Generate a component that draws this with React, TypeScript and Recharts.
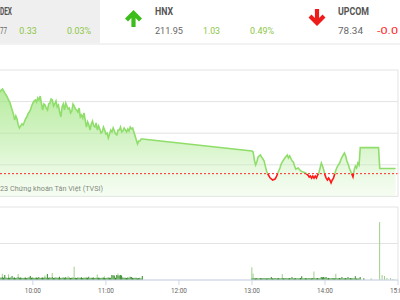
import React from 'react';
import { AreaChart, Area, XAxis, YAxis, CartesianGrid, ReferenceLine, BarChart, Bar } from 'recharts';

// ---- header (index tiles, partly cut off at the edges) ----
const tileNames = ['DEX', 'HNX', 'UPCOM'];
const tileValues = ['77', '211.95', '78.34'];
const tileChanges = ['0.33', '1.03', '-0.0'];
const tilePercents = ['0.03%', '0.49%', ''];

// ---- price (minutes since midnight, index value) ----
const referencePrice = 1099.44;
const priceTicks = [1098, 1100, 1102, 1104, 1106];

// one value per minute from 9:33 to 11:30
const morningPriceStart = 573;
const morningPrice = [
  1104.61, 1104.73, 1104.80, 1104.67, 1104.54, 1104.42, 1104.29, 1104.10, 1103.97, 1103.72,
  1103.47, 1103.22, 1102.84, 1103.09, 1102.90, 1102.52, 1102.33, 1102.46, 1102.58, 1102.52,
  1102.71, 1102.90, 1103.03, 1103.22, 1103.34, 1103.47, 1103.72, 1103.91, 1104.04, 1104.10,
  1103.97, 1104.23, 1104.10, 1104.35, 1103.91, 1103.47, 1103.85, 1103.78, 1103.59, 1103.47,
  1103.85, 1103.91, 1104.16, 1104.10, 1103.72, 1103.85, 1104.04, 1103.66, 1103.78, 1103.34,
  1103.03, 1103.66, 1103.85, 1103.47, 1103.91, 1103.72, 1103.53, 1103.59, 1103.28, 1103.41,
  1103.85, 1103.72, 1103.53, 1103.47, 1103.34, 1103.59, 1103.03, 1103.15, 1102.96, 1103.28,
  1102.84, 1102.39, 1102.71, 1102.52, 1102.20, 1102.58, 1102.77, 1102.46, 1102.39, 1102.65,
  1102.20, 1102.46, 1102.27, 1102.01, 1102.08, 1102.39, 1102.20, 1101.95, 1102.01, 1101.70,
  1101.95, 1102.20, 1102.08, 1102.33, 1102.14, 1101.95, 1101.89, 1102.20, 1102.20, 1102.39,
  1102.08, 1102.14, 1102.33, 1102.20, 1102.08, 1102.27, 1102.14, 1102.39, 1102.27, 1102.33,
  1102.08, 1101.82, 1101.57, 1101.32, 1101.51, 1101.51, 1101.63, 1101.63,
];

const afternoonPrice: [number, number][] = [
  [780, 1100.87], [781, 1100.81], [782, 1100.30], [783, 1099.99], [784, 1100.18], [785, 1100.49],
  [786, 1100.56], [787, 1100.62], [788, 1100.49], [789, 1100.37], [790, 1100.24], [791, 1099.92],
  [792, 1099.61], [793, 1099.42], [794, 1099.29], [795, 1099.16], [797, 1099.04], [799, 1099.10],
  [800, 1099.23], [801, 1099.42], [802, 1099.61], [803, 1099.80], [804, 1100.05], [805, 1100.18],
  [807, 1100.43], [809, 1100.62], [810, 1100.43], [811, 1100.56], [813, 1100.24], [814, 1100.18],
  [815, 1099.92], [816, 1099.73], [818, 1099.80], [820, 1099.61], [822, 1099.54], [824, 1099.48],
  [826, 1099.35], [827, 1099.23], [828, 1099.29], [829, 1099.16], [830, 1099.29], [831, 1099.16],
  [832, 1099.29], [833, 1099.16], [834, 1099.35], [835, 1099.48], [836, 1099.80], [837, 1100.11],
  [838, 1099.92], [839, 1099.67], [840, 1099.35], [841, 1099.16], [842, 1099.04], [843, 1099.16],
  [844, 1099.04], [845, 1098.85], [846, 1099.04], [847, 1099.16], [848, 1099.42], [849, 1099.67],
  [850, 1099.86], [851, 1099.99], [852, 1100.11], [853, 1100.30], [854, 1100.49], [855, 1100.62],
  [856, 1100.75], [857, 1100.56], [858, 1100.24], [859, 1100.05], [860, 1099.80], [861, 1099.61],
  [862, 1099.42], [863, 1099.23], [864, 1099.67], [865, 1099.92], [866, 1099.80], [867, 1100.11],
  [868, 1099.99], [869, 1101.09], [884, 1101.09], [885, 1099.77], [898, 1099.77],
];

// ---- volume (thousand shares per minute) ----
const morningStart = 573;
const morningVolume = [
  70, 60, 80, 65, 137, 70, 55, 75, 60, 70,
  110, 60, 70, 55, 65, 80, 60, 70, 65, 55,
  60, 70, 55, 65, 75, 110, 60, 70, 55, 65,
  70, 60, 80, 55, 65, 70, 60, 75, 65, 165,
  60, 70, 65, 80, 55, 60, 70, 65, 60, 90,
  55, 65, 70, 60, 75, 65, 60, 70, 55, 65,
  70, 60, 65, 55, 70, 65, 60, 75, 55, 60,
  65, 70, 60, 90, 55, 65, 60, 70, 55, 65,
  70, 60, 65, 55, 60, 70, 65, 55, 60, 70,
  65, 60, 137, 130, 120, 60, 137, 130, 125, 140,
  120, 70, 60, 65, 55, 70, 60, 90, 85, 60,
  55, 65, 60, 50, 55, 60, 40, 110,
];
const afternoonStart = 780;
const afternoonVolume = [
  50, 60, 45, 50, 55, 45, 50, 55, 45, 50,
  55, 45, 50, 45, 55, 50, 80, 45, 50, 55,
  45, 50, 55, 45, 50, 55, 50, 45, 55, 50,
  45, 55, 50, 80, 45, 50, 55, 45, 50, 45,
  55, 100, 50, 45, 55, 50, 45, 55, 50, 45,
  55, 60, 50, 45, 55, 50, 45, 80, 75, 80,
  70, 80, 50, 55, 45, 50, 55, 45, 50, 60,
  50, 45, 55, 50, 80, 45, 50, 55, 45, 80,
  50, 55, 45, 50, 45, 100, 40, 40, 45, 80,
  0, 0, 50,
];
const largeTrades: [number, number][] = [
  [575, 90], [580, 80], [588, 85], [610, 50], [616, 110], [629, 40], [634, 300], [653, 80],
  [659, 40], [670, 50], [780, 300], [781, 120], [805, 110], [831, 170], [849, 110], [878, 50],
  [885, 1590], [887, 140], [889, 110], [891, 55], [894, 55], [896, 30],
];

const timeTicks = [600, 660, 720, 780, 840, 900];
const timeTickLabels = ['10:00', '11:00', '12:00', '13:00', '14:00', '15:00'];
const volumeTicks = [0, 1000, 2000];

const priceData = [
  ...morningPrice.map((v, i) => ({ t: morningPriceStart + i, v })),
  ...afternoonPrice.map(([t, v]) => ({ t, v })),
];

const volumeData = (() => {
  const rows = new Map<number, { t: number; base: number; large: number }>();
  morningVolume.forEach((v, i) => rows.set(morningStart + i, { t: morningStart + i, base: v, large: 0 }));
  afternoonVolume.forEach((v, i) => rows.set(afternoonStart + i, { t: afternoonStart + i, base: v, large: 0 }));
  largeTrades.forEach(([t, v]) => {
    const r = rows.get(t) ?? { t, base: 0, large: 0 };
    r.large = v;
    rows.set(t, r);
  });
  return [...rows.values()].sort((a, b) => a.t - b.t);
})();

const FONT = 'Roboto, "Noto Sans", sans-serif';
const GREEN_TXT = '#8cc63f';
const GRID = '#e3e3e3';
const AXIS = '#ccd6eb';

const PLOT_TOP = 70;
const PLOT_BOTTOM = 196.4;
const refOffset = (priceTicks[4] - referencePrice) / (priceTicks[4] - priceTicks[0]);

const TimeTick = (props: any) => {
  const { x, y, payload } = props;
  const i = timeTicks.indexOf(payload.value);
  return (
    <text x={x} y={y + 5.7} textAnchor="middle" fontSize={7.6} fill="#666" fontFamily={FONT}
      textLength={16} lengthAdjust="spacingAndGlyphs">{timeTickLabels[i]}</text>
  );
};

const Header = () => {
  const nameX = [0, 155, 338];
  const nameW = [12, 18, 31];
  const valX = [0, 155, 338];
  const valW = [7, 28, 25];
  const chgX = [19.3, 203, 377];
  const chgW = [17.4, 17, 21];
  const pctX = [67, 250, 0];
  const pctW = [24, 24, 0];
  const chgColor = [GREEN_TXT, GREEN_TXT, '#ff2323'];
  return (
    <svg width={400} height={46} style={{ position: 'absolute', left: 0, top: 0 }}>
      <rect x={0} y={0} width={100} height={43} fill="#efefef" />
      <rect x={0} y={43} width={400} height={2} fill="#f2f2f2" />
      <path d="M133.5 10 L142 18.5 L139 21.5 L135.6 18 L135.6 27 L131.4 27 L131.4 18 L128 21.5 L125 18.5 Z" fill="#3dbd1c" />
      <path d="M317 26 L325.5 17.5 L322.5 14.5 L319.1 18 L319.1 9 L314.9 9 L314.9 18 L311.5 14.5 L308.5 17.5 Z" fill="#ee1b1b" />
      {tileNames.map((n, i) => (
        <text key={'n' + i} x={nameX[i]} y={15} fontFamily={FONT} fontWeight={700} fontSize={10.8} fill="#555"
          textLength={nameW[i]} lengthAdjust="spacingAndGlyphs">{n}</text>
      ))}
      {tileValues.map((v, i) => (
        <text key={'v' + i} x={valX[i]} y={34.3} fontFamily={FONT} fontSize={9.8} fill="#666"
          textLength={valW[i]} lengthAdjust="spacingAndGlyphs">{v}</text>
      ))}
      {tileChanges.map((v, i) => (
        <text key={'c' + i} x={chgX[i]} y={34.3} fontFamily={FONT} fontSize={9.8} fill={chgColor[i]}
          textLength={chgW[i]} lengthAdjust="spacingAndGlyphs">{v}</text>
      ))}
      {tilePercents.map((v, i) => v ? (
        <text key={'p' + i} x={pctX[i]} y={34.3} fontFamily={FONT} fontSize={9.8} fill={chgColor[i]}
          textLength={pctW[i]} lengthAdjust="spacingAndGlyphs">{v}</text>
      ) : null)}
    </svg>
  );
};

export default function App() {
  return (
    <div style={{ position: 'fixed', left: 0, top: 0, width: 400, height: 300, background: '#fff', overflow: 'hidden' }}>
      <Header />
      <div style={{ position: 'absolute', left: 0, top: 0 }}>
        <AreaChart width={400} height={200} data={priceData} margin={{ top: PLOT_TOP, right: 2, bottom: 200 - PLOT_BOTTOM, left: 0 }}>
          <defs>
            <linearGradient id="priceStroke" gradientUnits="userSpaceOnUse" x1={0} y1={PLOT_TOP} x2={0} y2={PLOT_BOTTOM}>
              <stop offset={refOffset} stopColor="#8fdd6a" />
              <stop offset={refOffset} stopColor="#ff1a1a" />
            </linearGradient>
            <linearGradient id="priceFill" gradientUnits="userSpaceOnUse" x1={0} y1={PLOT_TOP} x2={0} y2={PLOT_BOTTOM}>
              <stop offset={0} stopColor="#92e26e" stopOpacity={0.8} />
              <stop offset={0.6} stopColor="#b0ea96" stopOpacity={0.5} />
              <stop offset={1} stopColor="#e0f7d6" stopOpacity={0.3} />
            </linearGradient>
          </defs>
          <CartesianGrid vertical={false} stroke={GRID} />
          <XAxis dataKey="t" type="number" domain={[573, 900]} hide />
          <YAxis type="number" domain={[priceTicks[0], priceTicks[4]]} ticks={priceTicks} hide />
          <Area type="linear" dataKey="v" baseValue={priceTicks[0]} stroke="url(#priceStroke)" strokeWidth={1.6}
            fill="url(#priceFill)" fillOpacity={1} isAnimationActive={false} dot={false} activeDot={false} />
          <ReferenceLine y={referencePrice} stroke="#ff2a2a" strokeDasharray="2 2" strokeWidth={1} />
          <ReferenceLine x={900} stroke={GRID} />
          <text x={0} y={191} fontFamily={FONT} fontSize={7.8} fill="#555" textLength={103} lengthAdjust="spacingAndGlyphs">23 Chứng khoán Tân Việt (TVSI)</text>
        </AreaChart>
      </div>
      <div style={{ position: 'absolute', left: 0, top: 200 }}>
        <BarChart width={400} height={100} data={volumeData} margin={{ top: 7, right: 2, bottom: 5, left: 0 }} barGap={0}>
          <CartesianGrid vertical={false} stroke={GRID} />
          <XAxis dataKey="t" type="number" domain={[573, 900]} ticks={timeTicks} height={15}
            stroke={AXIS} tickLine={{ stroke: AXIS }} tickSize={5} tick={<TimeTick />} interval={0} />
          <YAxis type="number" domain={[0, 2000]} ticks={volumeTicks} hide />
          <ReferenceLine x={900} stroke={GRID} />
          <Bar dataKey="base" stackId="v" fill="#2f8a23" barSize={1} isAnimationActive={false} />
          <Bar dataKey="large" stackId="v" fill="#9fd08a" barSize={1} isAnimationActive={false} />
        </BarChart>
      </div>
    </div>
  );
}
